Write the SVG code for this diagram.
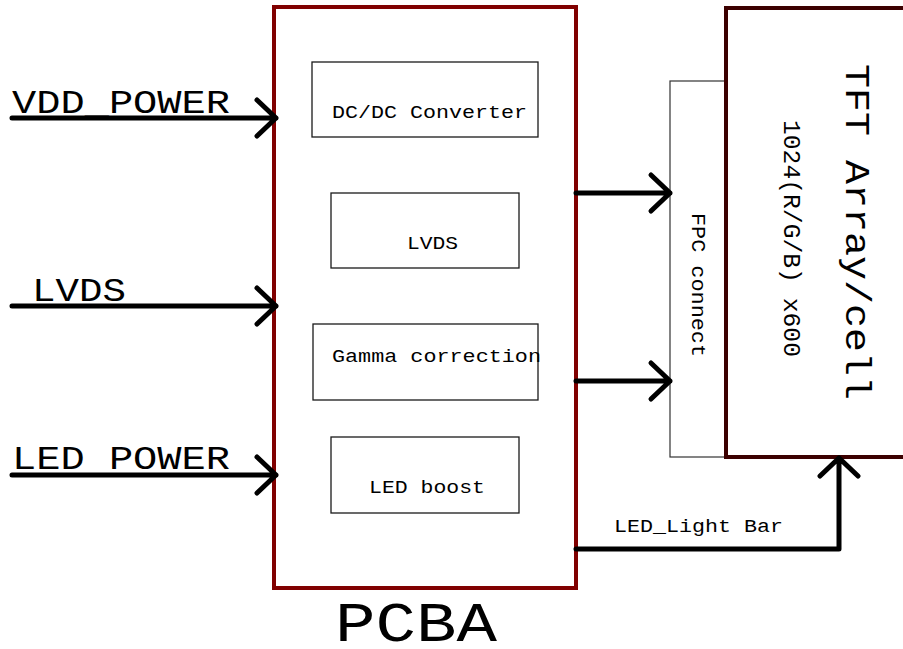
<svg xmlns="http://www.w3.org/2000/svg" width="903" height="649" viewBox="0 0 903 649">
  <style>
    .mono { font-family: "Courier New", "Nimbus Mono PS", "FreeMono", "Liberation Mono", "DejaVu Sans Mono", monospace; fill: #000; }
    .blk { fill: #fff; stroke: #1a1a1a; stroke-width: 1.3; }
    .wire { fill: none; stroke: #000; stroke-width: 5; stroke-linecap: round; stroke-linejoin: round; }
  </style>
  <rect width="903" height="649" fill="#fff"/>

  <!-- PCBA board -->
  <g id="pcba">
    <rect x="274" y="7" width="302" height="581" fill="#fff" stroke="#800000" stroke-width="4"/>
    <text class="mono" x="335" y="641" font-size="56" textLength="162" lengthAdjust="spacingAndGlyphs">PCBA</text>
  </g>

  <g id="dcdc">
    <rect class="blk" x="312" y="62" width="226" height="75"/>
    <text class="mono" x="332" y="118" font-size="19" textLength="195" lengthAdjust="spacingAndGlyphs">DC/DC Converter</text>
  </g>
  <g id="lvds-block">
    <rect class="blk" x="331" y="193" width="188" height="75"/>
    <text class="mono" x="407" y="249" font-size="19" textLength="51" lengthAdjust="spacingAndGlyphs">LVDS</text>
  </g>
  <g id="gamma">
    <rect class="blk" x="313" y="324" width="225" height="76"/>
    <text class="mono" x="332" y="362" font-size="19" textLength="209" lengthAdjust="spacingAndGlyphs">Gamma correction</text>
  </g>
  <g id="led-boost">
    <rect class="blk" x="331" y="437" width="188" height="76"/>
    <text class="mono" x="369" y="493" font-size="19" textLength="116" lengthAdjust="spacingAndGlyphs">LED boost</text>
  </g>

  <!-- FPC connector -->
  <g id="fpc">
    <rect x="670" y="81" width="56" height="376" fill="#fff" stroke="#333" stroke-width="1.2"/>
    <text class="mono" transform="translate(692,213) rotate(90)" font-size="20" textLength="144" lengthAdjust="spacingAndGlyphs">FPC connect</text>
  </g>

  <!-- TFT panel -->
  <g id="tft">
    <rect x="726" y="8" width="200" height="449" fill="#fff" stroke="#3c0000" stroke-width="4"/>
    <text class="mono" transform="translate(846,64) rotate(90)" font-size="35" textLength="336" lengthAdjust="spacingAndGlyphs">TFT Array/cell</text>
    <text class="mono" transform="translate(784,120) rotate(90)" font-size="23" textLength="237" lengthAdjust="spacingAndGlyphs">1024(R/G/B) x600</text>
  </g>

  <!-- input labels -->
  <g id="in-labels">
    <text class="mono" x="12" y="113" font-size="33" textLength="218" lengthAdjust="spacingAndGlyphs">VDD_POWER</text>
    <text class="mono" x="32" y="301" font-size="33" textLength="94" lengthAdjust="spacingAndGlyphs">LVDS</text>
    <text class="mono" x="12" y="469" font-size="33" textLength="218" lengthAdjust="spacingAndGlyphs">LED POWER</text>
    <text class="mono" x="614" y="532" font-size="19" textLength="169" lengthAdjust="spacingAndGlyphs">LED_Light Bar</text>
  </g>

  <!-- connectors -->
  <g id="connectors" class="wire">
    <path d="M12,118 H276 M257,100 L276,118 L257,136"/>
    <path d="M12,306 H276 M257,288 L276,306 L257,324"/>
    <path d="M12,475 H276 M257,457 L276,475 L257,493"/>
    <path d="M576,193 H670 M651,175 L670,193 L651,211"/>
    <path d="M576,381 H670 M651,363 L670,381 L651,399"/>
    <path d="M576,549 H839 V458 M820,476 L839,458 L858,476"/>
  </g>
</svg>
